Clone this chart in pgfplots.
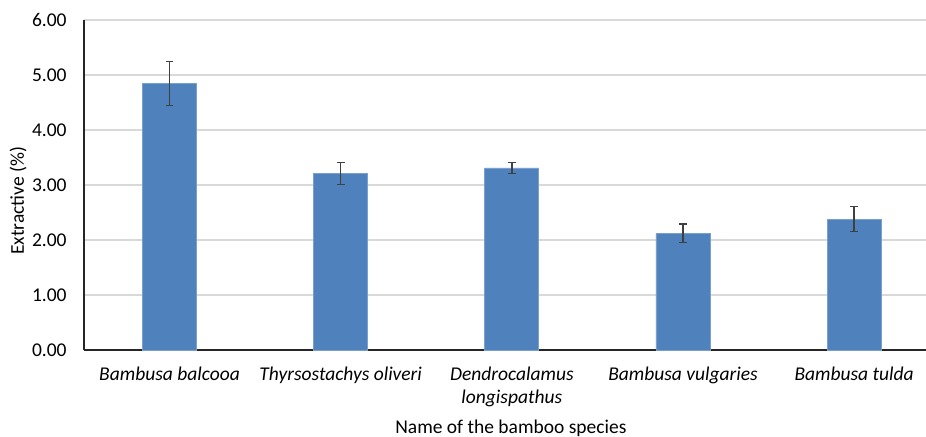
\documentclass[border=0pt]{standalone}
\usepackage{fontspec}
\setmainfont{Carlito}
\usepackage{pgfplots}
\usepackage{pgfplotstable}
\pgfplotsset{compat=1.18}
\definecolor{barblue}{RGB}{79,129,189}
\definecolor{gridgray}{RGB}{217,217,217}
\definecolor{errgray}{RGB}{64,64,64}
\pgfplotstableread{
x y e
0 4.85 0.40
1 3.21 0.20
2 3.31 0.10
3 2.12 0.17
4 2.38 0.23
}\datatable
\newcommand{\lbl}{\fontsize{9.75}{11.6}\selectfont}
\begin{document}
\begin{tikzpicture}
\begin{axis}[
  scale only axis, width=421pt, height=165pt,
  xmin=-0.5, xmax=4.42, ymin=0, ymax=6,
  ytick={0,1,2,3,4,5,6},
  xtick={0,1,2,3,4},
  xticklabels={Bambusa balcooa, Thyrsostachys oliveri, {Dendrocalamus\\longispathus}, Bambusa vulgaries, Bambusa tulda},
  axis x line=bottom, axis y line=left,
  axis line style={-, color=black!85, line width=0.6pt},
  major tick length=0pt,
  ymajorgrids, grid style={gridgray, line width=0.75pt},
  /pgf/number format/.cd, fixed, fixed zerofill, precision=2, assume math mode=true,
  /pgfplots/.cd,
  yticklabel style={font=\lbl, anchor=east, inner sep=0pt, xshift=-8.5pt},
  xticklabel style={font=\lbl\itshape, align=center, anchor=north, inner sep=0pt, yshift=-8.3pt},
  ylabel={Extractive (\%)},
  ylabel style={font=\lbl, at={(axis description cs:-0.0784,0.4515)}, anchor=center},
  xlabel={Name of the bamboo species},
  xlabel style={font=\lbl, at={(axis description cs:0.507,0)}, anchor=center, yshift=-39pt},
  clip=false,
]
\addplot[ybar, bar width=0.316, fill=barblue, draw=barblue!75!white, line width=0.4pt,
  error bars/.cd, y dir=both, y explicit,
  error bar style={errgray, line width=0.7pt},
  error mark options={errgray, rotate=90, mark size=1.9pt, line width=0.7pt}]
  table[x=x, y=y, y error=e]{\datatable};
\end{axis}
\pgfresetboundingbox
\useasboundingbox (-42pt,-43.5pt) rectangle (421pt,175pt);
\end{tikzpicture}
\end{document}
